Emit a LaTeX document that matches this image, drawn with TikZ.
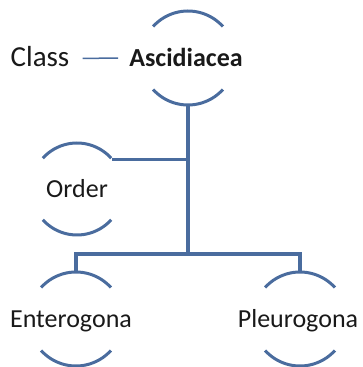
\documentclass[tikz,border=0pt]{standalone}
\usepackage{fontspec}
\setmainfont{Carlito}
\usepackage{xcolor}
\usetikzlibrary{positioning,calc}

\definecolor{linkblue}{RGB}{74,108,158}
\definecolor{txtgray}{RGB}{25,25,25}

\newcommand\taxarcs[2]{%
  \draw[arcline] (#1.42) arc (42:138:#2);
  \draw[arcline] (#1.222) arc (222:318:#2);
}

\begin{document}
\begin{tikzpicture}[
            x=1pt, y=1pt,
            taxon/.style={circle, draw=none, inner sep=0pt, outer sep=0pt, minimum size=94pt},
            lab/.style={font=\fontsize{26}{30}\selectfont, text=txtgray, text height=17pt, text depth=0pt, inner sep=0pt},
            arcline/.style={draw=linkblue, line width=3pt},
            link/.style={draw=linkblue, line width=3.4pt},
            thinlink/.style={draw=linkblue, line width=1.5pt}
        ]
        \useasboundingbox (0,0) rectangle (363,367);

        \node[taxon, label={[lab, name=asclab, font=\bfseries\fontsize{26}{30}\selectfont, xshift=-2pt]center:Ascidiacea}] (asc) at (188,309) {};
        \node[taxon, minimum size=92pt, label={[lab, name=ordlab]center:Order}] (ord) at (77,178) {};
        \node[taxon, label={[lab, name=entlab, xshift=-5pt]center:Enterogona}] (ent) at (76,48) {};
        \node[taxon, label={[lab, name=plelab, xshift=-2pt]center:Pleurogona}] (ple) at (300,48) {};
        \node[lab, font=\fontsize{29}{32}\selectfont] (cls) at (40,308.5) {Class};

        \taxarcs{asc}{47}
        \taxarcs{ord}{46}
        \taxarcs{ent}{47}
        \taxarcs{ple}{47}

        \coordinate (fork) at (asc.south |- 0,113);

        \draw[thinlink, shorten <=13pt, shorten >=11pt] (cls.east) -- (asclab.west);
        \draw[link] (asc.south) -- (fork);
        \draw[link] (ord.40) -- (ord.40 -| asc.south);
        \draw[link] (ent.north) |- (fork) -| (ple.north);
    \end{tikzpicture}
\end{document}
